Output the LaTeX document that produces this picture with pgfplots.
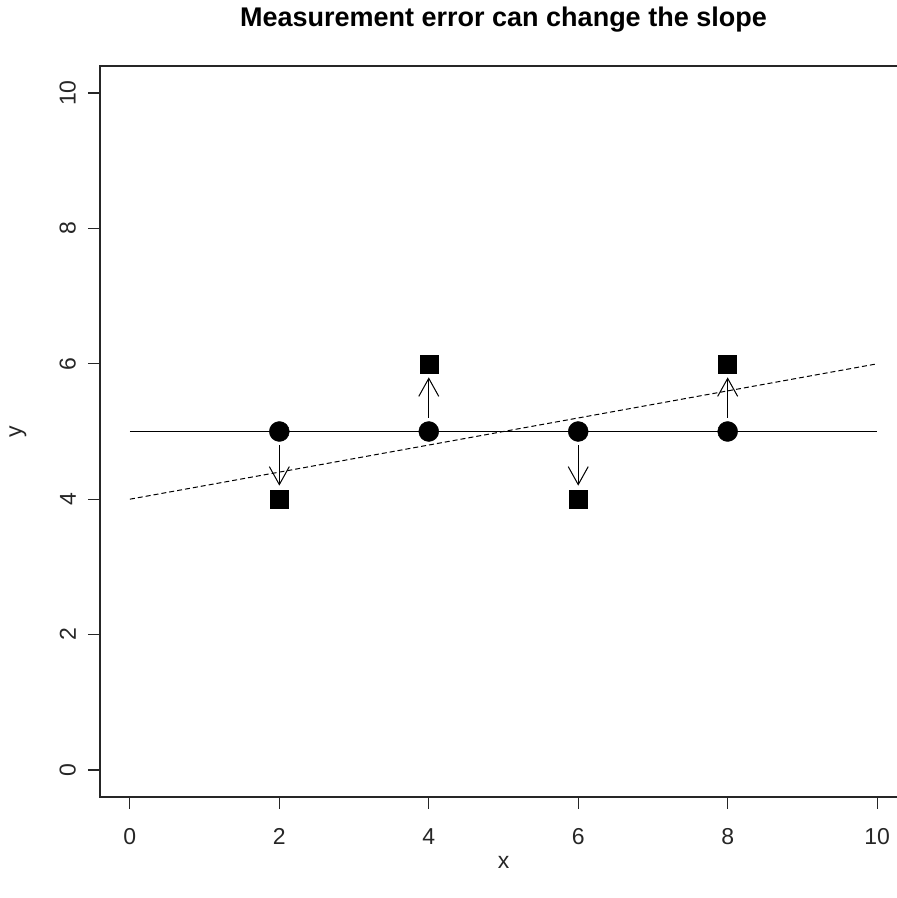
\documentclass[border=0pt]{standalone}
\usepackage{fontspec}
\setmainfont{Liberation Sans}
\usepackage{pgfplots}
\pgfplotsset{compat=1.18}
\usetikzlibrary{arrows.meta}
\begin{document}
\begin{tikzpicture}[x=1pt,y=1pt]
\useasboundingbox (0,0) rectangle (897,898);
\clip (0,0) rectangle (897,898);
\begin{axis}[
  at={(100pt,101pt)}, anchor=south west,
  scale only axis, width=807pt, height=731pt,
  xmin=-0.4, xmax=10.4, ymin=-0.4, ymax=10.4,
  xtick={0,2,4,6,8,10}, ytick={0,2,4,6,8,10},
  xtick pos=lower, ytick pos=left,
  tick align=outside, major tick length=12pt,
  axis line style={line width=1.2pt, black!85},
  tick style={line width=1.2pt, black!85},
  /pgf/number format/assume math mode=true,
  tick label style={font=\fontsize{23}{27}\selectfont, text=black!85},
  xticklabel style={anchor=north, yshift=-16pt},
  yticklabel style={rotate=90, anchor=south, yshift=8.5pt},
  title={\textbf{Measurement error can change the slope}},
  title style={font=\fontsize{27}{31}\selectfont, at={(axis description cs:0.5,1.0547)}, anchor=center},
  xlabel={x}, ylabel={y},
  label style={font=\fontsize{23}{27}\selectfont, text=black!85},
  xlabel style={at={(axis description cs:0.5,-0.0889)}, anchor=center},
  ylabel style={at={(axis description cs:-0.1016,0.5)}, anchor=center, rotate=0},
  clip=false,
]
% horizontal solid line
\addplot[black, line width=1pt] coordinates {(0,5) (10,5)};
% dashed line
\addplot[black, line width=1pt, dash pattern=on 5pt off 3pt] coordinates {(0,4) (10,6)};
% arrows
\addplot[black, line width=1pt, -{Straight Barb[length=18pt,width=20pt,line width=1pt]}] coordinates {(2,4.8) (2,4.2)};
\addplot[black, line width=1pt, -{Straight Barb[length=18pt,width=20pt,line width=1pt]}] coordinates {(4,5.2) (4,5.8)};
\addplot[black, line width=1pt, -{Straight Barb[length=18pt,width=20pt,line width=1pt]}] coordinates {(6,4.8) (6,4.2)};
\addplot[black, line width=1pt, -{Straight Barb[length=18pt,width=20pt,line width=1pt]}] coordinates {(8,5.2) (8,5.8)};
% true points
\addplot[only marks, mark=*, mark size=10pt, black] coordinates {(2,5) (4,5) (6,5) (8,5)};
% measured points
\addplot[only marks, mark=square*, mark size=9pt, black] coordinates {(2,4) (4,6) (6,4) (8,6)};
\end{axis}
\end{tikzpicture}
\end{document}
